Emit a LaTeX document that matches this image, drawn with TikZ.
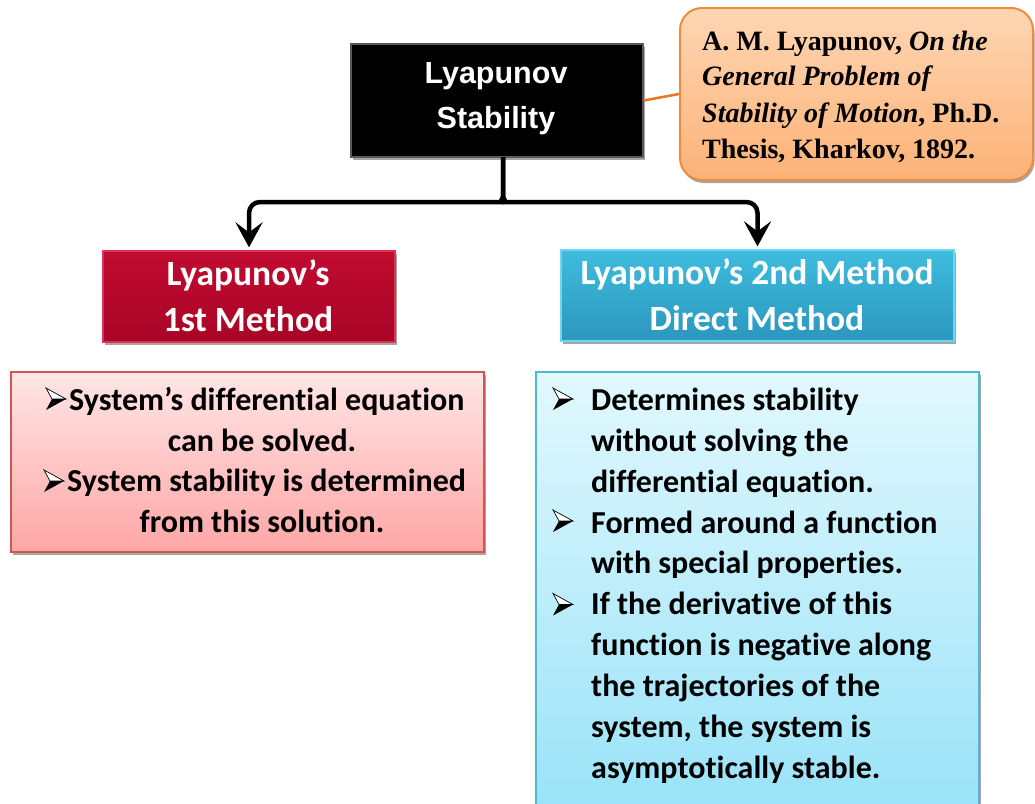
\documentclass[tikz,border=0pt]{standalone}
\usepackage{fontspec}
\setmainfont{Carlito}
\newfontfamily\calfont[Ligatures=NoCommon]{Carlito}
\newfontfamily\arialfont{Liberation Sans}
\newfontfamily\timesfont{Liberation Serif}
\usetikzlibrary{arrows.meta,shadows,calc}
\definecolor{redtop}{RGB}{192,12,48}
\definecolor{redbot}{RGB}{168,4,38}
\definecolor{redline}{RGB}{222,50,80}
\definecolor{bluetop}{RGB}{62,188,222}
\definecolor{bluebot}{RGB}{44,150,190}
\definecolor{blueline}{RGB}{110,215,238}
\definecolor{pinktop}{RGB}{255,230,230}
\definecolor{pinkbot}{RGB}{255,166,166}
\definecolor{pinkline}{RGB}{212,84,84}
\definecolor{ltop}{RGB}{226,248,254}
\definecolor{lbot}{RGB}{150,226,248}
\definecolor{lline}{RGB}{76,184,210}
\definecolor{otop}{RGB}{255,214,180}
\definecolor{obot}{RGB}{252,178,118}
\definecolor{oline}{RGB}{238,140,60}
\definecolor{oconn}{RGB}{232,118,36}
\begin{document}
\begin{tikzpicture}[x=1pt,y=-1pt,
  shad/.style={drop shadow={shadow xshift=1.5pt,shadow yshift=-3pt,opacity=0.35,fill=black}},
  hbox/.style={shad,inner sep=0,line width=1.2pt},
  lbox/.style={shad,inner sep=0,line width=1.5pt},
  hwhite/.style={font=\calfont\bfseries\fontsize{35.5}{42}\selectfont,text=white,inner sep=0,anchor=base},
  htop/.style={font=\arialfont\bfseries\fontsize{30.5}{36}\selectfont,text=white,inner sep=0,anchor=base},
  bt/.style={font=\calfont\bfseries\fontsize{32}{38}\selectfont,inner sep=0,anchor=base west},
  btc/.style={bt,anchor=base},
  rt/.style={font=\timesfont\bfseries\fontsize{28}{34}\selectfont,inner sep=0,anchor=base west},
  conn/.style={line width=4.5pt,draw=black},
  tipa/.style={-{Stealth[length=25pt,width=27pt,inset=10pt]}},
  bul/.pic={
    \filldraw[fill=white,draw=black,line width=0.7pt] (0,-11) -- (20,0) -- (6,0) -- cycle;
    \fill[black] (6,0) -- (20,0) -- (0,11) -- cycle;
  }]
\useasboundingbox (0,0) rectangle (1035,803);
\clip (0,0) rectangle (1035,803);
\fill[white] (0,0) rectangle (1035,803);

% boxes
\node[hbox,fill=black,draw=black!65,minimum width=292pt,minimum height=113pt] (top) at (497,100.5) {};
\node[shad,inner sep=0,line width=2pt,rounded corners=22pt,top color=otop,bottom color=obot,draw=oline,minimum width=353pt,minimum height=172pt] (ref) at (856.5,94) {};
\node[hbox,top color=redtop,bottom color=redbot,draw=redline,minimum width=292pt,minimum height=91pt] (m1) at (249,296.5) {};
\node[hbox,top color=bluetop,bottom color=bluebot,draw=blueline,minimum width=393pt,minimum height=91pt] (m2) at (757.5,295.5) {};
\node[lbox,top color=pinktop,bottom color=pinkbot,draw=pinkline,minimum width=473pt,minimum height=180pt] (d1) at (247.5,462) {};
\node[lbox,top color=ltop,bottom color=lbot,draw=lline,minimum width=443pt,minimum height=456pt] (d2) at (757.5,600) {};

% connectors
\coordinate (j) at (503,157);
\coordinate (hy) at (0,202);
\draw[oconn,line width=2.5pt] (top.east) -- (ref.west);
\draw[conn,tipa,rounded corners=11pt] (j) -- (503,186) .. controls (503,197) and (500,202) .. (490,202)
   -- (m1.north |- hy) -- ($(m1.north)+(0,-3)$);
\draw[conn,tipa,rounded corners=11pt] (j) -- (503,186) .. controls (503,197) and (506,202) .. (516,202)
   -- (m2.north |- hy) -- ($(m2.north)+(0,-3)$);

% header texts
\node[htop] (t1) at (496,83) {Lyapunov};
\node[htop] (t2) at (496,128) {Stability};
\node[hwhite] (r1) at (248,285) {Lyapunov’s};
\node[hwhite] (r2) at (248,331) {1st Method};
\node[hwhite] (b1) at (757,284) {Lyapunov’s 2nd Method};
\node[hwhite] (b2) at (757,330) {Direct Method};

% reference text
\node[rt] (o1) at (702,50) {A. M. Lyapunov, \textit{On the}};
\node[rt] (o2) at (702,85) {\textit{General Problem of}};
\node[rt] (o3) at (702,122) {\textit{Stability of Motion}, Ph.D.};
\node[rt] (o4) at (702,158) {Thesis, Kharkov, 1892.};

% pink list
\pic at (46,399) {bul};
\pic at (44,481) {bul};
\node[bt] (p1) at (69,410) {System’s differential equation};
\node[btc] (p2) at (262,451) {can be solved.};
\node[bt] (p3) at (67,491) {System stability is determined};
\node[btc] (p4) at (262,532) {from this solution.};

% blue list
\pic at (553,399) {bul};
\pic at (553,521) {bul};
\pic at (553,604.5) {bul};
\node[bt] (q1) at (591,410) {Determines stability};
\node[bt] (q2) at (591,451) {without solving the};
\node[bt] (q3) at (591,492) {differential equation.};
\node[bt] (q4) at (591,533) {Formed around a function};
\node[bt] (q5) at (591,573) {with special properties.};
\node[bt] (q6) at (591,614) {If the derivative of this};
\node[bt] (q7) at (591,655) {function is negative along};
\node[bt] (q8) at (591,696) {the trajectories of the};
\node[bt] (q9) at (591,737) {system, the system is};
\node[bt] (q10) at (591,778) {asymptotically stable.};
\end{tikzpicture}
\end{document}
